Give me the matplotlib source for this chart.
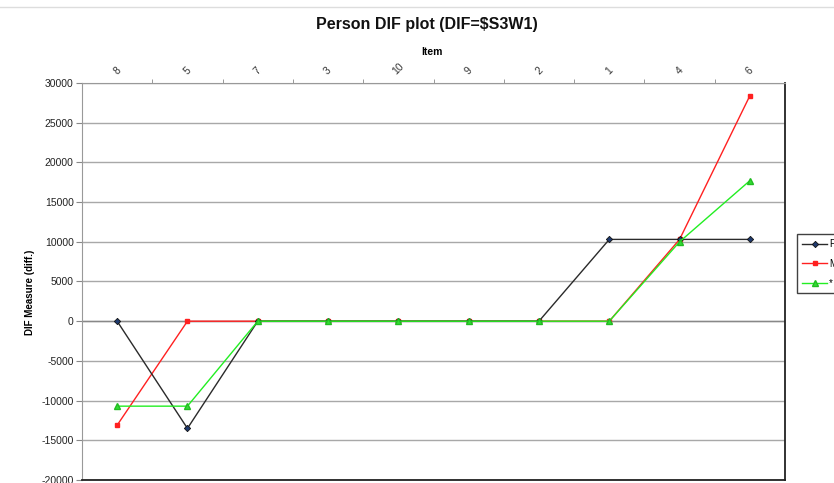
import matplotlib
matplotlib.use("Agg")
import matplotlib.pyplot as plt
from matplotlib.lines import Line2D

plt.rcParams["font.family"] = ["Liberation Sans", "DejaVu Sans"]

# Items in plotted order and DIF measure per group
items = ["8", "5", "7", "3", "10", "9", "2", "1", "4", "6"]
dif_f = [0, -13500, 0, 0, 0, 0, 0, 10300, 10300, 10300]
dif_m = [-13100, 0, 0, 0, 0, 0, 0, 0, 10300, 28400]
dif_star = [-10700, -10700, 0, 0, 0, 0, 0, 0, 10000, 17700]
y_ticks = list(range(-20000, 30001, 5000))

fig = plt.figure(figsize=(8.34, 4.83), dpi=100)
ax = fig.add_axes([0.0983, 0.0062, 0.8430, 0.8220])

x = list(range(len(items)))
ax.plot(x, dif_f, color="#2a2a2a", lw=1.0, marker="D", ms=3.2,
        mfc="#1f3a6e", mec="#111111", mew=0.6, label="F", zorder=4)
ax.plot(x, dif_m, color="#ff2020", lw=1.0, marker="s", ms=3.2,
        mfc="#ff2020", mec="#ff2020", label="M", zorder=3)
ax.plot(x, dif_star, color="#22ee22", lw=1.0, marker="^", ms=4.2,
        mfc="#33dd33", mec="#22bb22", label="*", zorder=5)

ax.set_xlim(-0.5, len(items) - 0.5)
ax.set_ylim(-20000, 30000)
ax.set_yticks(y_ticks)
ax.set_yticklabels([str(v) for v in y_ticks], fontsize=7.5, color="#222222")
ax.yaxis.grid(True, color="#a8a8a8", lw=1.0)
ax.axhline(0, color="#888888", lw=1.0, zorder=1)
ax.set_axisbelow(True)

# category labels across the top, ticks between categories
ax.xaxis.tick_top()
ax.set_xticks(x)
ax.set_xticklabels(items, rotation=45, fontsize=7.5, color="#333333")
ax.tick_params(axis="x", which="major", length=0, pad=5)
ax.set_xticks([i + 0.5 for i in x[:-1]], minor=True)
ax.tick_params(axis="x", which="minor", top=True, bottom=False,
               length=3, color="#888888")
ax.tick_params(axis="y", length=4, color="#888888", pad=2)

for side in ("left", "top"):
    ax.spines[side].set_color("#999999")
for side in ("right", "bottom"):
    ax.spines[side].set_color("#222222")
    ax.spines[side].set_linewidth(1.3)

fig.text(0.518, 0.892, "Item", fontsize=7.5, fontweight="bold",
         ha="center", va="center")
fig.text(0.512, 0.950, "Person DIF plot (DIF=$S3W1)", fontsize=11.5,
         fontweight="bold", ha="center", va="center", color="#111111")
fig.text(0.036, 0.395, "DIF Measure (diff.)", fontsize=7,
         fontweight="bold", rotation=90, ha="center", va="center")

# thin chart-area rule at the top
fig.add_artist(Line2D([0, 1], [0.985, 0.985], color="#dddddd", lw=1.0))

leg = ax.legend(loc="upper left", bbox_to_anchor=(0.956, 0.515),
                bbox_transform=fig.transFigure, fontsize=7, frameon=True,
                fancybox=False, edgecolor="#111111", handlelength=2.6,
                handletextpad=0.15, borderpad=0.5, labelspacing=1.0,
                borderaxespad=0)
leg.get_frame().set_linewidth(1.0)

fig.savefig("out.png", dpi=100)
